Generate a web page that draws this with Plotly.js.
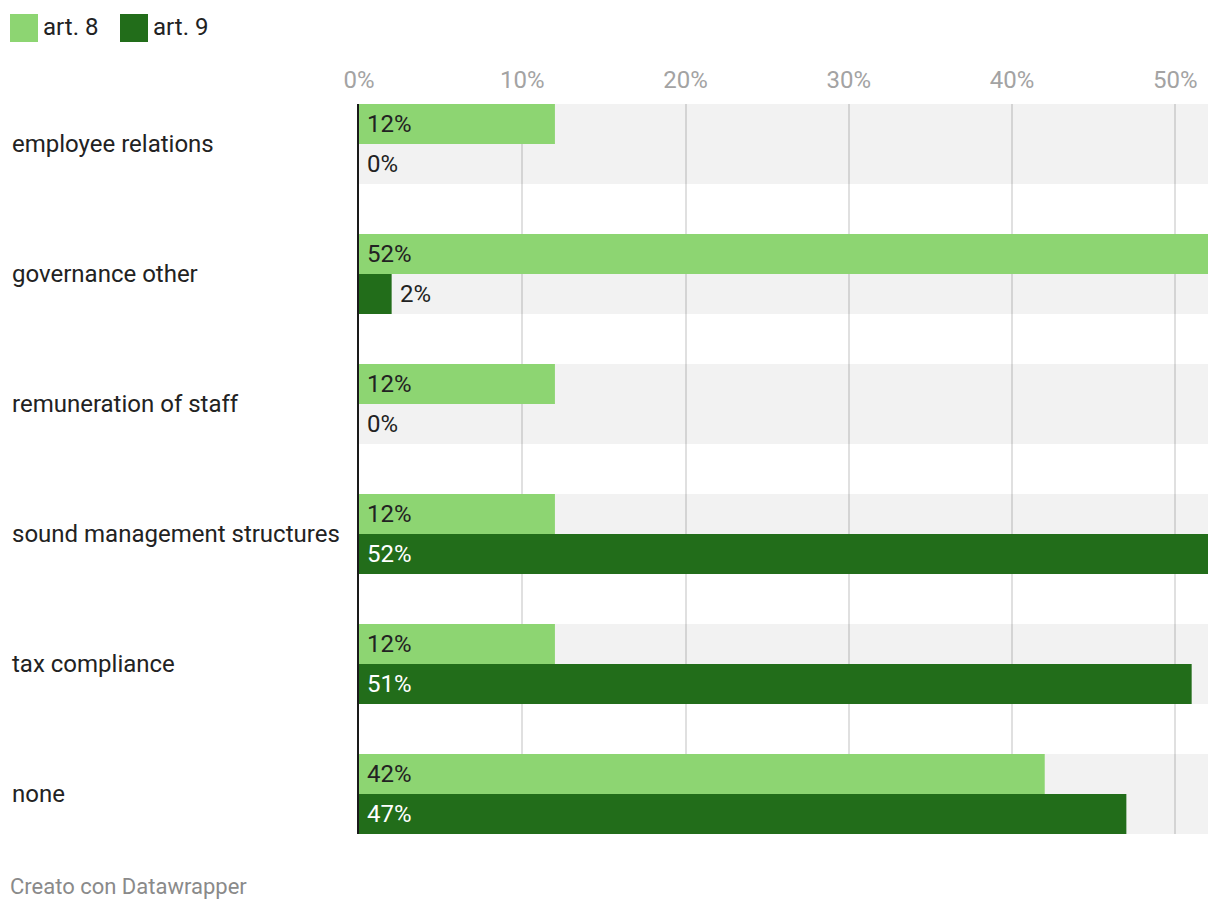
<!DOCTYPE html>
<html>
<head>
<meta charset="utf-8">
<script src="https://cdn.plot.ly/plotly-3.0.1.min.js"></script>
<style>html,body{margin:0;padding:0;background:#fff;}#chart{width:1220px;height:912px;}</style>
</head>
<body>
<div id="chart"></div>
<script>
const categories = ["employee relations", "governance other", "remuneration of staff", "sound management structures", "tax compliance", "none"];
const art8 = [12, 52, 12, 12, 12, 42];
const art9 = [0, 2, 0, 52, 51, 47];
const seriesNames = ["art. 8", "art. 9"];
const xTicks = [0, 10, 20, 30, 40, 50];
const xMax = 52;
const footer = "Creato con Datawrapper";

const colLight = "#8dd572";
const colDark = "#226d1a";
const FONT = "Roboto, 'Open Sans', sans-serif";

const W = 1220, H = 912;
const L = 359, R = 12, T = 104, B = 78;
const PW = W - L - R, PH = H - T - B;
const px = x => (x - L) / PW;
const py = y => (T + PH - y) / PH;

const half = 0.3077; // half of the group band (in category units)

const traces = [
  {
    type: "bar", orientation: "h", y: categories,
    x: categories.map(() => xMax),
    marker: {color: "rgba(0,0,0,0.05)", line: {width: 0}},
    width: 2 * half, offset: -half, hoverinfo: "skip", showlegend: false
  },
  {
    type: "bar", orientation: "h", name: seriesNames[0], y: categories, x: art8,
    marker: {color: colLight, line: {width: 0}},
    width: half, offset: -half, showlegend: false
  },
  {
    type: "bar", orientation: "h", name: seriesNames[1], y: categories, x: art9,
    marker: {color: colDark, line: {width: 0}},
    width: half, offset: 0, showlegend: false
  }
];

const annotations = [];
categories.forEach((c, i) => {
  annotations.push({
    xref: "paper", yref: "y", x: px(10), y: c, xanchor: "left", yanchor: "middle",
    text: c, showarrow: false, font: {family: FONT, size: 24, color: "#222"}
  });
  [[art8[i], 20, false], [art9[i], -20, true]].forEach(([v, ys, dark]) => {
    const inside = v >= 6;
    annotations.push({
      xref: "x", yref: "y", x: inside ? 0 : v, y: c, xanchor: "left", yanchor: "middle",
      xshift: inside ? 6 : (v === 0 ? 6 : 6), yshift: ys,
      text: v + "%", showarrow: false,
      font: {family: FONT, size: 24, color: (inside && dark) ? "#fff" : "#222"}
    });
  });
});

// legend
const shapes = [];
[[seriesNames[0], colLight, 10], [seriesNames[1], colDark, 120]].forEach(([n, col, x0]) => {
  shapes.push({type: "rect", xref: "paper", yref: "paper", x0: px(x0), x1: px(x0 + 28), y0: py(42), y1: py(14),
    fillcolor: col, line: {width: 0}});
  annotations.push({xref: "paper", yref: "paper", x: px(x0 + 31), y: py(27), xanchor: "left", yanchor: "middle",
    text: n, showarrow: false, font: {family: FONT, size: 24, color: "#222"}});
});

annotations.push({xref: "paper", yref: "paper", x: px(8), y: py(886), xanchor: "left", yanchor: "middle",
  text: footer, showarrow: false, font: {family: FONT, size: 22, color: "#8a8a8a"}});

const layout = {
  width: W, height: H,
  margin: {l: L, r: R, t: T, b: B, pad: 0},
  paper_bgcolor: "#fff", plot_bgcolor: "#fff",
  barmode: "overlay",
  showlegend: false,
  font: {family: FONT},
  xaxis: {
    range: [0, xMax], side: "top", tickvals: xTicks, ticktext: xTicks.map(t => t + "%"),
    showgrid: true, gridcolor: "#e0e0e0", gridwidth: 2, zeroline: false,
    tickfont: {family: FONT, size: 24, color: "#a3a3a3"}, ticks: "", ticklabelstandoff: 10,
    fixedrange: true
  },
  yaxis: {
    type: "category", categoryorder: "array", categoryarray: categories,
    range: [categories.length - 1 + half, -half],
    showticklabels: false, showgrid: false, zeroline: false,
    showline: true, linecolor: "#1a1a1a", linewidth: 2, layer: "above traces",
    ticks: "", fixedrange: true
  },
  annotations: annotations,
  shapes: shapes
};

Plotly.newPlot("chart", traces, layout, {displayModeBar: false, staticPlot: true});
</script>
</body>
</html>
